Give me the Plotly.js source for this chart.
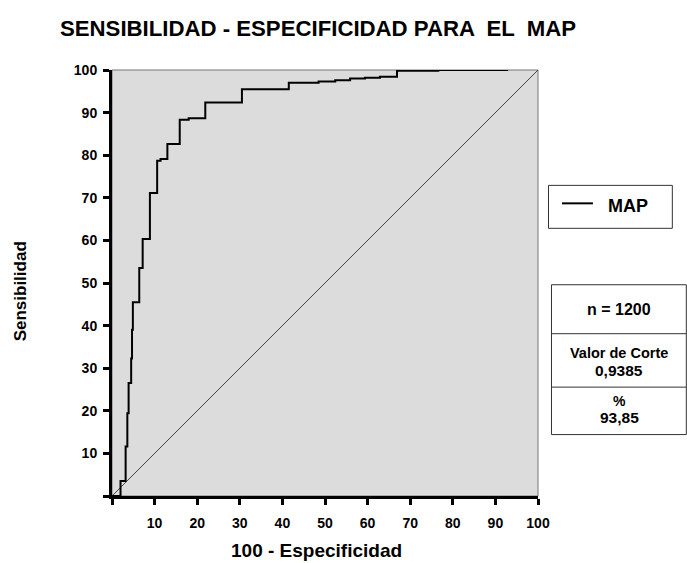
<!DOCTYPE html>
<html>
<head>
<meta charset="utf-8">
<script src="https://cdn.plot.ly/plotly-3.0.1.min.js"></script>
<style>
html,body{margin:0;padding:0;background:#fff;}
#chart{width:687px;height:563px;}
</style>
</head>
<body>
<div id="chart"></div>
<script>
// ROC curve of MAP (x = 100 - Especificidad, y = Sensibilidad)
const seriesName = "MAP";
const fpr = [0, 2.0, 3.2, 3.6, 3.9, 4.5, 4.7, 4.9, 6.4, 7.2, 8.9, 10.6, 11.4, 13.0, 15.9, 18.0, 21.9, 30.5, 41.5, 48.5, 52.4, 55.9, 59.4, 62.9, 66.9, 76.6, 93.0];
const tpr = [0, 3.5, 11.6, 19.4, 26.5, 32.3, 39.0, 45.5, 53.5, 60.3, 71.1, 78.7, 79.1, 82.6, 88.3, 88.7, 92.4, 95.5, 97.0, 97.3, 97.6, 98.0, 98.2, 98.4, 99.8, 100, 100];
const refX = [0, 100];
const refY = [0, 100];
const tickVals = [0, 10, 20, 30, 40, 50, 60, 70, 80, 90, 100];
const tickText = ["", "10", "20", "30", "40", "50", "60", "70", "80", "90", "100"];
const titleText = "SENSIBILIDAD - ESPECIFICIDAD PARA  EL  MAP";
const xTitle = "100 - Especificidad";
const yTitle = "Sensibilidad";
const infoN = "n = 1200";
const infoCutLabel = "Valor de Corte";
const infoCutValue = "0,9385";
const infoPctLabel = "%";
const infoPctValue = "93,85";

const F = "Arial, 'Liberation Sans', sans-serif";

const traces = [
  {x: refX, y: refY, mode: "lines", line: {color: "#444", width: 1}, showlegend: false, hoverinfo: "skip"},
  {x: fpr, y: tpr, mode: "lines", name: seriesName, showlegend: false, line: {color: "#000", width: 2, shape: "hv"}}
];

// paper coords relative to plot area (111.5..538 horizontally, 70..496.5 vertically)
const W = 426.5, H = 426.5, L = 111.5, T = 70;
const px = v => (v - L) / W;
const py = v => (T + H - v) / H;

const shapes = [
  {type: "rect", xref: "paper", yref: "paper", x0: 0, x1: 1, y0: 0, y1: 1, line: {color: "#777", width: 1}, layer: "below"},
  // legend box
  {type: "rect", xref: "paper", yref: "paper", x0: px(548.5), x1: px(672.5), y0: py(228.5), y1: py(185.5), fillcolor: "#fff", line: {color: "#333", width: 1}},
  {type: "line", xref: "paper", yref: "paper", x0: px(562), x1: px(593), y0: py(203.5), y1: py(203.5), line: {color: "#000", width: 2}},
  // info table
  {type: "rect", xref: "paper", yref: "paper", x0: px(551.5), x1: px(686.5), y0: py(435), y1: py(285), line: {color: "#333", width: 1}},
  {type: "line", xref: "paper", yref: "paper", x0: px(551.5), x1: px(686.5), y0: py(334), y1: py(334), line: {color: "#333", width: 1}},
  {type: "line", xref: "paper", yref: "paper", x0: px(551.5), x1: px(686.5), y0: py(387.5), y1: py(387.5), line: {color: "#333", width: 1}}
];

const cx = px(619.5);
const ann = (x, y, t, s, xa) => ({xref: "paper", yref: "paper", x: x, y: y, text: "<b>" + t + "</b>", showarrow: false, xanchor: xa || "center", yanchor: "middle", font: {family: F, size: s, color: "#000"}});
const annotations = [
  ann(px(606), py(206), seriesName, 18, "left"),
  ann(cx, py(310), infoN, 16),
  ann(cx, py(353), infoCutLabel, 14.5),
  ann(cx, py(371), infoCutValue, 15.5),
  ann(cx, py(401), infoPctLabel, 14),
  ann(cx, py(418), infoPctValue, 15.5),
  {xref: "paper", yref: "paper", x: px(316.5), y: py(551), text: "<b>" + xTitle + "</b>", showarrow: false, xanchor: "center", yanchor: "middle", font: {family: F, size: 19, color: "#000"}},
  {xref: "paper", yref: "paper", x: px(20), y: py(292), text: "<b>" + yTitle + "</b>", textangle: -90, showarrow: false, xanchor: "center", yanchor: "middle", font: {family: F, size: 17, color: "#000"}}
];

const layout = {
  width: 687, height: 563,
  margin: {l: 111.5, r: 149, t: 70, b: 66.5, pad: 0},
  paper_bgcolor: "#fff",
  plot_bgcolor: "#dcdcdc",
  showlegend: false,
  title: {text: "<b>" + titleText + "</b>", font: {family: F, size: 22.2, color: "#000"}, xref: "container", x: 60/687, xanchor: "left", yref: "container", y: 1 - 28/563, yanchor: "middle"},
  xaxis: {
    range: [0, 100], tickmode: "array", tickvals: tickVals, ticktext: tickText,
    showgrid: false, zeroline: false, showline: true, linecolor: "#000", linewidth: 3,
    ticks: "outside", ticklen: 6, tickwidth: 3, tickcolor: "#000", ticklabelstandoff: 6,
    tickfont: {family: F, size: 14, color: "#000", weight: "bold"},
    automargin: false, fixedrange: true
  },
  yaxis: {
    range: [0, 100], tickmode: "array", tickvals: tickVals, ticktext: tickText,
    showgrid: false, zeroline: false, showline: true, linecolor: "#000", linewidth: 3,
    ticks: "outside", ticklen: 6, tickwidth: 3, tickcolor: "#000", ticklabelstandoff: 3,
    tickfont: {family: F, size: 14, color: "#000", weight: "bold"},
    automargin: false, fixedrange: true
  },
  shapes: shapes,
  annotations: annotations
};

Plotly.newPlot("chart", traces, layout, {displayModeBar: false, staticPlot: true});
</script>
</body>
</html>
